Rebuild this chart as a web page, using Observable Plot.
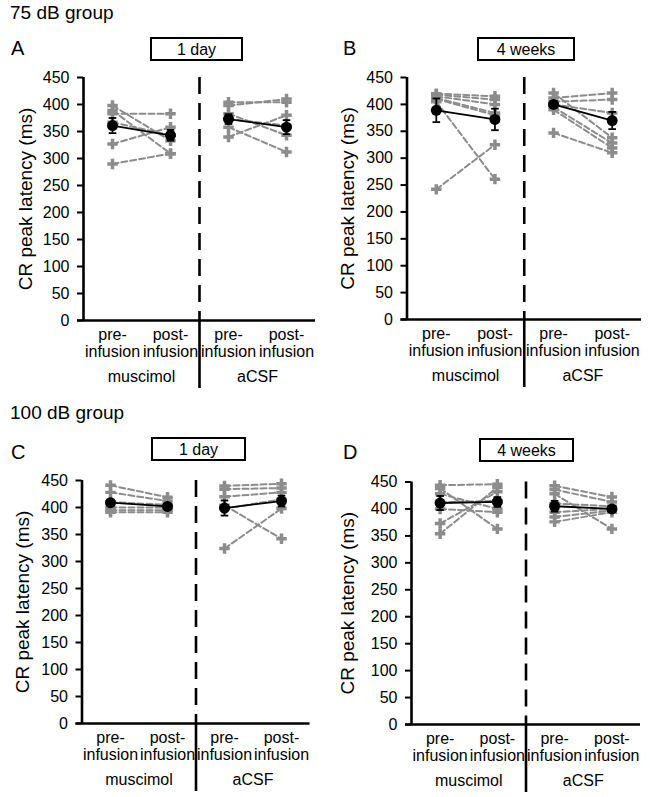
<!DOCTYPE html>
<html>
<head>
<meta charset="utf-8">
<script src="https://cdn.jsdelivr.net/npm/d3@7"></script>
<script src="https://cdn.jsdelivr.net/npm/@observablehq/plot@0.6"></script>
<style>
  body { margin: 0; background: #fff; font-family: "Liberation Sans", Arial, sans-serif; }
  #wrap { position: relative; width: 650px; height: 797px; overflow: hidden; background: #fff; }
  .panel { position: absolute; width: 325px; }
  #overlay { position: absolute; left: 0; top: 0; }
</style>
</head>
<body>
<div id="wrap"></div>
<script>
// ---------- labels ----------
const yTicks = [0, 50, 100, 150, 200, 250, 300, 350, 400, 450];
const conditionLabels = ["pre-\ninfusion", "post-\ninfusion"];
const treatmentLabels = ["muscimol", "aCSF"];
const yLabel = "CR peak latency (ms)";
const groupTitles = ["75 dB group", "100 dB group"];
const panelLetters = ["A", "B", "C", "D"];
const panelTitles = ["1 day", "4 weeks", "1 day", "4 weeks"];

// ---------- A: 75 dB, 1 day ----------
const A_musPre  = [398, 389, 383, 367, 327, 290];
const A_musPost = [333, 309, 383, 343, 358, 309];
const A_csfPre  = [404, 398, 383, 373, 358, 340];
const A_csfPost = [404, 410, 343, 361, 312, 380];
const A_mean = [361, 343, 373, 358];
const A_sem  = [14, 10, 9, 13];

// ---------- B: 75 dB, 4 weeks ----------
const B_musPre  = [420, 418, 415, 412, 410, 405, 242];
const B_musPost = [415, 409, 400, 384, 380, 261, 325];
const B_csfPre  = [421, 412, 405, 400, 395, 390, 347];
const B_csfPost = [338, 421, 409, 384, 328, 319, 310];
const B_mean = [389, 372, 400, 370];
const B_sem  = [22, 20, 6, 16];

// ---------- C: 100 dB, 1 day ----------
const C_musPre  = [441, 428, 410, 400, 395, 391];
const C_musPost = [419, 412, 405, 400, 395, 391];
const C_csfPre  = [440, 434, 420, 404, 398, 324];
const C_csfPost = [444, 436, 428, 342, 415, 398];
const C_mean = [409, 402, 399, 412];
const C_sem  = [5, 3, 14, 10];

// ---------- D: 100 dB, 4 weeks ----------
const D_musPre  = [444, 438, 428, 412, 400, 373, 354];
const D_musPost = [446, 363, 400, 415, 394, 432, 440];
const D_csfPre  = [443, 436, 428, 410, 394, 385, 376];
const D_csfPost = [422, 413, 363, 405, 400, 397, 394];
const D_mean = [411, 413, 405, 400];
const D_sem  = [13, 9, 10, 5];

const FONT = '"Liberation Sans", Arial, sans-serif';
const GRAY = "#8c8c8c";

const panels = [
  {musPre: A_musPre, musPost: A_musPost, csfPre: A_csfPre, csfPost: A_csfPost, mean: A_mean, sem: A_sem,
   L: {left: 0, top: 60, height: 340, mt: 17, mb: 80, ml: 83, mr: 10, labelDx: -58}},
  {musPre: B_musPre, musPost: B_musPost, csfPre: B_csfPre, csfPost: B_csfPost, mean: B_mean, sem: B_sem,
   L: {left: 325, top: 60, height: 340, mt: 17, mb: 81, ml: 81.5, mr: 9, labelDx: -59.5}},
  {musPre: C_musPre, musPost: C_musPost, csfPre: C_csfPre, csfPost: C_csfPost, mean: C_mean, sem: C_sem,
   L: {left: 0, top: 460, height: 337, mt: 20, mb: 74, ml: 81.5, mr: 15.5, labelDx: -59.5}},
  {musPre: D_musPre, musPost: D_musPost, csfPre: D_csfPre, csfPost: D_csfPost, mean: D_mean, sem: D_sem,
   L: {left: 325, top: 460, height: 337, mt: 21.5, mb: 73, ml: 86, mr: 10, labelDx: -64}}
];

const capSymbol = {
  draw(ctx, size) {
    const w = Math.sqrt(size / Math.PI);
    ctx.moveTo(-w, 0);
    ctx.lineTo(w, 0);
  }
};

function makePanel(p) {
  const L = p.L;
  const nCond = conditionLabels.length;
  const nPos = treatmentLabels.length * nCond;
  const series = [[p.musPre, p.musPost], [p.csfPre, p.csfPost]];
  const subj = [];
  series.forEach((pair, g) => pair.forEach((vals, c) => vals.forEach((v, i) =>
    subj.push({pos: g * nCond + c + 0.5, v, id: g + "-" + i}))));
  const means = p.mean.map((m, k) => ({pos: k + 0.5, m, s: p.sem[k], g: Math.floor(k / nCond)}));
  const ticksX = treatmentLabels.flatMap((t, g) => conditionLabels.map((lab, c) => {
    const parts = lab.split("\n");
    return {pos: g * nCond + c + 0.5, top: parts[0], bottom: parts[1]};
  }));
  const groupsX = treatmentLabels.map((t, g) => ({pos: g * nCond + nCond / 2, t}));
  const boundaries = treatmentLabels.slice(1).map((t, g) => (g + 1) * nCond);
  const innerH = L.height - L.mt - L.mb;
  const innerW = 325 - L.ml - L.mr;

  return Plot.plot({
    width: 325,
    height: L.height,
    marginTop: L.mt,
    marginBottom: L.mb,
    marginLeft: L.ml,
    marginRight: L.mr,
    x: {domain: [0, nPos], axis: null},
    y: {domain: [0, d3.max(yTicks)], axis: null},
    style: {fontFamily: FONT, fontSize: "16px", color: "black", background: "white", overflow: "visible"},
    marks: [
      // group divider: dashed within plot, solid below axis
      Plot.ruleX(boundaries, {stroke: "black", strokeWidth: 2.6, strokeDasharray: "17,9"}),
      Plot.ruleX(boundaries, {stroke: "black", strokeWidth: 2.6, insetTop: innerH, insetBottom: -68}),
      // individual animals
      Plot.line(subj, {x: "pos", y: "v", z: "id", stroke: GRAY, strokeWidth: 2, strokeDasharray: "6,3"}),
      Plot.dot(subj, {x: "pos", y: "v", symbol: "cross", r: 4.4, fill: GRAY, stroke: "none"}),
      // mean ± SEM
      Plot.ruleX(means, {x: "pos", y1: d => d.m - d.s, y2: d => d.m + d.s, stroke: "black", strokeWidth: 1.8}),
      Plot.dot(means, {x: "pos", y: d => d.m + d.s, symbol: capSymbol, r: 3.8, fill: "none", stroke: "black", strokeWidth: 1.8}),
      Plot.dot(means, {x: "pos", y: d => d.m - d.s, symbol: capSymbol, r: 3.8, fill: "none", stroke: "black", strokeWidth: 1.8}),
      Plot.line(means, {x: "pos", y: "m", z: "g", stroke: "black", strokeWidth: 1.8}),
      Plot.dot(means, {x: "pos", y: "m", r: 5.5, fill: "black", stroke: "none"}),
      // axes
      Plot.ruleX([0], {stroke: "black", strokeWidth: 2.6}),
      Plot.ruleY([0], {stroke: "black", strokeWidth: 2.6, insetLeft: -6}),
      Plot.ruleY(yTicks, {y: d => d, stroke: "black", strokeWidth: 2, insetLeft: -6, insetRight: innerW}),
      Plot.text(yTicks, {y: d => d, text: d => String(d), frameAnchor: "left", textAnchor: "end", dx: -14, fontSize: 16, lineAnchor: "middle", fill: "black"}),
      Plot.text(ticksX, {x: "pos", text: "top", frameAnchor: "bottom", lineAnchor: "bottom", dy: 19, fontSize: 16, fill: "black"}),
      Plot.text(ticksX, {x: "pos", text: "bottom", frameAnchor: "bottom", lineAnchor: "bottom", dy: 36, fontSize: 16, fill: "black"}),
      Plot.text(groupsX, {x: "pos", text: "t", frameAnchor: "bottom", lineAnchor: "bottom", dy: 61.5, fontSize: 16, fill: "black"}),
      Plot.text([yLabel], {text: d => d, frameAnchor: "left", textAnchor: "middle", rotate: -90, dx: L.labelDx, fontSize: 19, lineAnchor: "middle", fill: "black"})
    ]
  });
}

const wrap = document.getElementById("wrap");
panels.forEach(p => {
  const div = document.createElement("div");
  div.className = "panel";
  div.style.left = p.L.left + "px";
  div.style.top = p.L.top + "px";
  div.appendChild(makePanel(p));
  wrap.appendChild(div);
});

// ---------- headings, panel letters, title boxes ----------
const headPos = [{x: 10, y: 19}, {x: 10, y: 419}];
const letterPos = [{x: 11, y: 55}, {x: 343, y: 55}, {x: 11, y: 459}, {x: 343, y: 459}];
const boxPos = [{x: 151, y: 38, w: 91}, {x: 478, y: 38, w: 96}, {x: 152, y: 438, w: 93}, {x: 480, y: 439, w: 93}];

const svg = d3.select(wrap).append("svg")
  .attr("id", "overlay").attr("width", 650).attr("height", 797)
  .style("font-family", FONT);
groupTitles.forEach((t, i) => svg.append("text").attr("x", headPos[i].x).attr("y", headPos[i].y)
  .attr("font-size", 19).text(t));
panelLetters.forEach((t, i) => svg.append("text").attr("x", letterPos[i].x).attr("y", letterPos[i].y)
  .attr("font-size", 20).text(t));
panelTitles.forEach((t, i) => {
  const b = boxPos[i];
  svg.append("rect").attr("x", b.x).attr("y", b.y).attr("width", b.w).attr("height", 22)
    .attr("fill", "white").attr("stroke", "black").attr("stroke-width", 2);
  svg.append("text").attr("x", b.x + b.w / 2).attr("y", b.y + 16.5).attr("text-anchor", "middle")
    .attr("font-size", 16).text(t);
});
</script>
</body>
</html>
